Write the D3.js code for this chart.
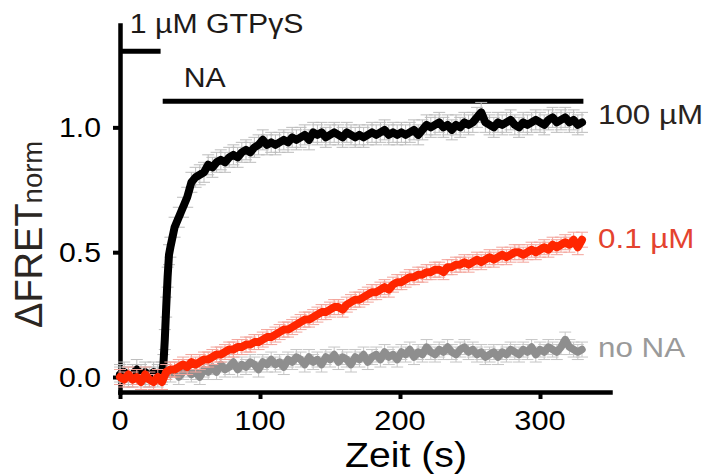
<!DOCTYPE html>
<html>
<head>
<meta charset="utf-8">
<script src="https://cdn.jsdelivr.net/npm/d3@7"></script>
<style>
  body { margin: 0; background: #fff; }
  svg { display: block; }
  text { font-family: "Liberation Sans", Arial, Helvetica, sans-serif; }
</style>
</head>
<body>
<svg id="chart" width="704" height="474"></svg>
<script>
// Sampling times (s) shared by the 0.1 µM and no-NA traces
const times = [0,3,6,9,12,15,18,21,24,27,30,33,36,39,42,45,48,51,54,57,60,63,66,69,72,75,78,81,84,87,
  90,93,96,99,102,105,108,111,114,117,120,123,126,129,132,135,138,141,144,147,150,153,156,159,162,165,168,171,174,177,
  180,183,186,189,192,195,198,201,204,207,210,213,216,219,222,225,228,231,234,237,240,243,246,249,252,255,258,261,264,267,
  270,273,276,279,282,285,288,291,294,297,300,303,306,309,312,315,318,321,324,327,330];

// 100 µM trace is sampled more finely around the NA application
const blackTimes = [0,3,6,9,12,15,18,21,24,27,30,31,32,33,34,35,36,39,42,45,48,51,54,57,60,63,66,69,72,75,78,81,84,87,
  90,93,96,99,102,105,108,111,114,117,120,123,126,129,132,135,138,141,144,147,150,153,156,159,162,165,168,171,174,177,
  180,183,186,189,192,195,198,201,204,207,210,213,216,219,222,225,228,231,234,237,240,243,246,249,252,255,258,261,264,267,
  270,273,276,279,282,285,288,291,294,297,300,303,306,309,312,315,318,321,324,327,330];

const na100 = [0.01,0.02,0.00,0.01,0.03,0.01,0.02,0.00,0.02,0.01,0.02,
  0.05,0.15,0.28,0.40,0.49,
  0.52,0.60,0.64,0.68,0.72,0.78,0.80,0.81,0.82,0.85,0.84,0.86,0.87,0.86,0.88,0.89,0.88,0.90,
  0.91,0.90,0.92,0.93,0.95,0.93,0.94,0.93,0.94,0.95,0.94,0.96,0.95,0.96,0.97,0.95,0.98,0.97,0.98,0.96,
  0.97,0.98,0.97,0.96,0.98,0.97,0.96,0.97,0.96,0.97,0.98,0.97,0.98,0.99,0.97,0.98,0.97,0.98,0.97,0.98,
  0.99,0.97,0.99,1.01,1.00,1.01,1.02,1.00,1.01,0.99,1.01,1.00,1.02,1.01,1.02,1.04,1.06,1.02,1.01,1.00,
  1.02,1.01,1.02,1.03,1.01,1.00,1.02,1.01,1.02,1.03,1.02,1.01,1.03,1.04,1.02,1.03,1.04,1.02,1.03,1.01,1.02];

const na01 = [0.00,-0.01,0.01,-0.01,0.00,-0.02,0.01,-0.01,-0.02,0.00,
  -0.02,0.02,0.03,0.03,0.04,0.05,0.04,0.06,0.05,0.06,
  0.07,0.07,0.08,0.09,0.09,0.10,0.11,0.11,0.12,0.12,
  0.13,0.13,0.14,0.14,0.15,0.16,0.16,0.17,0.18,0.19,
  0.19,0.20,0.21,0.22,0.23,0.23,0.24,0.25,0.26,0.26,
  0.27,0.28,0.28,0.27,0.29,0.30,0.31,0.31,0.32,0.33,
  0.34,0.34,0.35,0.36,0.35,0.37,0.38,0.38,0.39,0.40,
  0.40,0.41,0.41,0.42,0.42,0.43,0.43,0.42,0.44,0.44,
  0.45,0.45,0.46,0.45,0.46,0.47,0.46,0.47,0.48,0.47,
  0.48,0.49,0.48,0.49,0.50,0.50,0.49,0.50,0.51,0.50,
  0.51,0.52,0.51,0.53,0.52,0.53,0.54,0.53,0.55,0.52,
  0.55];

const noNA = [0.01,0.00,0.01,-0.01,0.00,0.01,-0.01,0.00,0.01,-0.01,
  0.00,0.02,0.01,0.03,0.00,0.02,0.03,0.01,0.02,0.00,
  0.03,0.02,0.04,0.02,0.05,0.03,0.04,0.06,0.03,0.05,
  0.04,0.06,0.05,0.03,0.06,0.05,0.07,0.05,0.06,0.04,
  0.07,0.06,0.08,0.07,0.05,0.08,0.06,0.07,0.05,0.08,
  0.07,0.09,0.06,0.08,0.07,0.05,0.08,0.07,0.09,0.06,
  0.08,0.09,0.07,0.10,0.08,0.09,0.07,0.10,0.09,0.11,
  0.08,0.10,0.09,0.12,0.10,0.09,0.11,0.10,0.12,0.10,
  0.09,0.11,0.12,0.10,0.11,0.09,0.10,0.08,0.09,0.10,
  0.08,0.10,0.09,0.11,0.10,0.09,0.11,0.10,0.12,0.09,
  0.11,0.10,0.12,0.11,0.10,0.12,0.15,0.12,0.11,0.10,
  0.11];

// Standard error of each trace (normalised units)
const semValues = { na100: 0.04, na01: 0.03, noNA: 0.03 };

const seriesNames  = ["no NA", "100 µM", "0.1 µM"];
const seriesLevels = [0.12, 1.055, 0.555];   // where each right-hand label sits

const xTickValues = [0, 100, 200, 300];
const yTickValues = [0, 0.5, 1.0];
const yTickLabels = ["0.0", "0.5", "1.0"];

// Application bars above the traces: [label, start s, end s, level]
const applications = [
  ["1 µM GTPγS", 0, 29, 1.305],
  ["NA", 30.5, 331, 1.105]
];

const svg = d3.select("#chart");
const x = d3.scaleLinear().domain([0, 350]).range([120, 610]);
const y = d3.scaleLinear().domain([-0.06, 1.41]).range([392, 25]);
const stretch = 1.12;            // the lettering is slightly wide

function label(g, px, py, str, size, anchor, fill) {
  return g.append("text")
    .attr("transform", `translate(${px},${py}) scale(${stretch},1)`)
    .attr("text-anchor", anchor)
    .attr("font-size", size)
    .attr("fill", fill)
    .text(str);
}

// Axes
const xAxis = svg.append("g")
  .attr("transform", `translate(0,${y.range()[0]})`)
  .call(d3.axisBottom(x).tickValues(xTickValues).tickSize(7).tickSizeOuter(0).tickFormat(""));
const yAxis = svg.append("g")
  .attr("transform", `translate(${x.range()[0]},0)`)
  .call(d3.axisLeft(y).tickValues(yTickValues).tickSize(7).tickSizeOuter(0).tickFormat(""));
[xAxis, yAxis].forEach(a => {
  a.select(".domain").attr("stroke", "#000").attr("stroke-width", 4.5).attr("stroke-linecap", "square");
  a.selectAll(".tick line").attr("stroke", "#000").attr("stroke-width", 4);
});

const labels = svg.append("g");
xTickValues.forEach(v => label(labels, x(v), 430, String(v), 27.5, "middle", "#000"));
yTickValues.forEach((v, i) => label(labels, 101, y(v) + 10, yTickLabels[i], 27, "end", "#000"));
label(labels, 406, 467, "Zeit (s)", 35, "middle", "#000");

// Rotated y-axis title with subscript
const yTitle = svg.append("text")
  .attr("transform", "translate(42,328) rotate(-90)")
  .attr("fill", "#2b2622");
yTitle.append("tspan").attr("font-size", 38).text("ΔFRET");
yTitle.append("tspan").attr("font-size", 27.5).text("norm");

// Application bars
const appG = svg.append("g");
applications.forEach(([txt, t0, t1, lvl]) => {
  appG.append("line")
    .attr("x1", x(t0)).attr("x2", x(t1))
    .attr("y1", y(lvl)).attr("y2", y(lvl))
    .attr("stroke", "#000").attr("stroke-width", 5);
});
label(appG, x(7), 33, applications[0][0], 27, "start", "#1e1a18");
label(appG, x(45.5), 87, applications[1][0], 27, "start", "#1e1a18");

// Traces with error bars
const traces = [
  { name: seriesNames[0], t: times, v: noNA, sem: semValues.noNA, color: "#8e8e8e", err: "#c6c6c6", width: 7.5, text: "#9a9a9a", level: seriesLevels[0] },
  { name: seriesNames[1], t: blackTimes, v: na100, sem: semValues.na100, color: "#000", err: "#bcbcbc", width: 8, text: "#2a2420", level: seriesLevels[1] },
  { name: seriesNames[2], t: times, v: na01, sem: semValues.na01, color: "#ff2600", err: "#f3a49b", width: 8, text: "#e4432f", level: seriesLevels[2] }
];

const line = d3.line().x(d => x(d[0])).y(d => y(d[1]));
const cap = 6;

traces.forEach(s => {
  const pts = s.t.map((t, i) => [t, s.v[i]]);
  const g = svg.append("g");
  let d = "";
  pts.forEach(([t, v]) => {
    const px = x(t), lo = y(v - s.sem), hi = y(v + s.sem);
    d += `M${px},${lo}V${hi}M${px - cap},${hi}H${px + cap}M${px - cap},${lo}H${px + cap}`;
  });
  g.append("path").attr("d", d).attr("fill", "none").attr("stroke", s.err).attr("stroke-width", 1);
  g.append("path").datum(pts).attr("d", line)
    .attr("fill", "none").attr("stroke", s.color).attr("stroke-width", s.width)
    .attr("stroke-linejoin", "round").attr("stroke-linecap", "round");
});

traces.forEach(s => {
  label(labels, 598, y(s.level) + 10, s.name, 28, "start", s.text);
});
</script>
</body>
</html>
